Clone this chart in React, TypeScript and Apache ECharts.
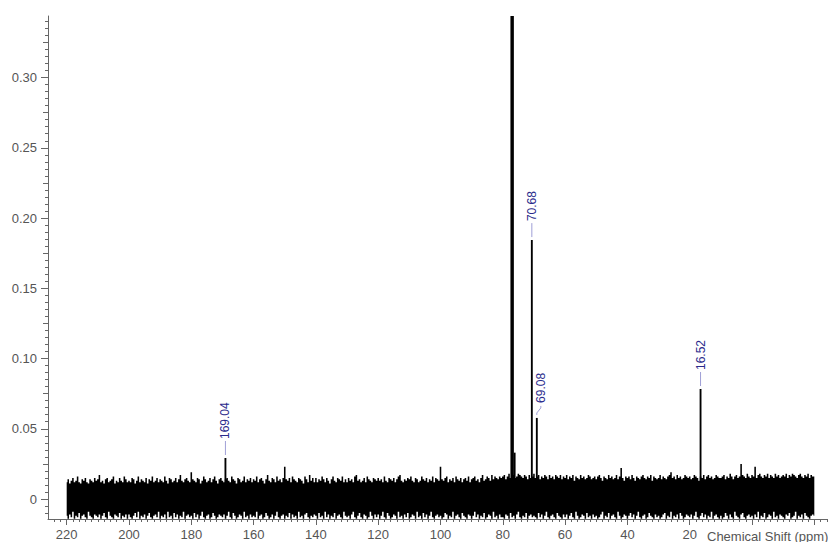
import React, { useEffect, useRef } from "react";
import * as echarts from "echarts";

// 13C NMR spectrum in CDCl3. Shift axis runs right-to-left.
const noiseStart = 220; // ppm, first baseline sample
const noiseEnd = -20; // ppm, last baseline sample
const noiseStep = 0.5; // ppm between baseline samples

// Upper edge of the baseline noise, 220 -> -20 ppm every 0.5 ppm (units of 0.001)
const noiseTop = [
  12, 14, 11, 13, 15, 12, 13, 16, 12, 11, 14, 13, 15, 12, 11, 14, 13, 12, 15, 13,
  14, 17, 12, 13, 11, 14, 15, 12, 13, 14, 16, 11, 13, 12, 15, 13, 12, 16, 14, 12,
  13, 12, 15, 14, 11, 13, 16, 12, 14, 13, 12, 15, 11, 14, 13, 16, 12, 13, 15, 12,
  14, 13, 12, 16, 13, 11, 15, 14, 12, 13, 15, 12, 14, 17, 13, 12, 14, 15, 13, 12,
  19, 14, 13, 12, 15, 14, 11, 13, 16, 14, 12, 13, 15, 12, 14, 16, 13, 11, 14, 15,
  13, 12, 14, 15, 13, 12, 16, 14, 13, 11, 15, 14, 12, 13, 16, 12, 14, 13, 15, 12,
  14, 13, 16, 12, 14, 15, 13, 11, 14, 17, 13, 12, 15, 14, 12, 16, 13, 14, 12, 15,
  23, 14, 13, 15, 12, 16, 14, 13, 12, 15, 14, 13, 11, 16, 14, 12, 17, 13, 15, 12,
  15, 12, 14, 13, 16, 14, 12, 15, 13, 11, 14, 16, 13, 12, 15, 14, 13, 16, 12, 14,
  12, 15, 13, 14, 12, 16, 17, 13, 14, 12, 13, 15, 12, 16, 14, 13, 12, 15, 14, 13,
  15, 13, 14, 12, 16, 13, 12, 15, 14, 13, 15, 12, 14, 16, 17, 13, 12, 14, 13, 15,
  14, 16, 13, 12, 15, 14, 12, 13, 16, 14, 13, 15, 12, 14, 13, 16, 12, 15, 14, 13,
  23, 14, 13, 15, 16, 12, 14, 13, 15, 12, 16, 14, 13, 15, 12, 14, 15, 13, 16, 12,
  14, 15, 16, 13, 14, 12, 15, 17, 13, 14, 16, 15, 13, 17, 14, 16, 15, 14, 16, 15,
  16, 17, 14, 16, 18, 15, 16, 17, 15, 16, 18, 17, 16, 15, 17, 16, 14, 17, 15, 16,
  18, 15, 16, 17, 14, 16, 15, 17, 16, 14, 17, 15, 16, 14, 17, 16, 15, 17, 14, 16,
  15, 17, 14, 16, 15, 17, 13, 16, 15, 14, 17, 15, 16, 14, 15, 17, 16, 14, 15, 16,
  14, 16, 17, 15, 13, 16, 15, 14, 17, 15, 16, 14, 15, 17, 14, 16, 22, 15, 13, 16,
  15, 16, 14, 17, 15, 13, 16, 15, 14, 16, 17, 15, 14, 16, 15, 17, 13, 16, 15, 14,
  15, 17, 14, 16, 15, 14, 16, 17, 19, 15, 16, 14, 17, 15, 16, 14, 15, 17, 16, 15,
  16, 14, 15, 17, 16, 15, 13, 16, 15, 17, 14, 16, 17, 15, 16, 14, 15, 17, 16, 15,
  15, 16, 17, 14, 16, 15, 18, 16, 14, 16, 17, 15, 16, 25, 17, 16, 15, 18, 16, 15,
  17, 16, 23, 15, 17, 18, 16, 15, 17, 16, 18, 15, 17, 16, 15, 18, 16, 17, 15, 16,
  17, 16, 18, 15, 17, 16, 18, 17, 16, 15, 17, 18, 16, 15, 17, 16, 18, 15, 17, 16,
  16,
];
// Lower edge of the baseline noise, same sampling (units of 0.001)
const noiseBottom = [
  -12, -14, -11, -13, -9, -14, -12, -13, -10, -14, -12, -11, -13, -14, -9, -12, -13, -14, -11, -12,
  -13, -11, -14, -12, -10, -13, -14, -9, -12, -13, -14, -11, -12, -13, -10, -14, -12, -13, -11, -14,
  -11, -13, -14, -12, -10, -13, -9, -14, -12, -13, -11, -14, -12, -10, -13, -14, -12, -11, -13, -9,
  -14, -12, -13, -11, -14, -9, -13, -12, -14, -10, -13, -11, -14, -12, -13, -9, -14, -12, -11, -13,
  -12, -14, -10, -13, -11, -14, -12, -9, -13, -14, -12, -11, -14, -13, -10, -12, -14, -13, -11, -12,
  -13, -11, -14, -12, -9, -13, -14, -10, -12, -14, -13, -11, -12, -14, -9, -13, -12, -14, -11, -13,
  -12, -13, -9, -14, -12, -11, -14, -13, -10, -12, -14, -13, -11, -14, -12, -9, -13, -14, -12, -11,
  -14, -12, -13, -10, -14, -11, -13, -12, -14, -9, -13, -12, -14, -11, -10, -13, -14, -12, -13, -11,
  -12, -14, -10, -13, -12, -14, -9, -13, -11, -14, -12, -13, -10, -14, -12, -11, -13, -14, -9, -12,
  -13, -12, -14, -11, -9, -13, -14, -12, -10, -13, -14, -11, -12, -14, -13, -9, -12, -14, -11, -13,
  -11, -14, -12, -9, -13, -14, -10, -12, -14, -13, -11, -12, -14, -9, -13, -12, -14, -11, -13, -10,
  -14, -13, -11, -12, -14, -9, -13, -12, -14, -10, -13, -11, -14, -12, -9, -13, -14, -12, -11, -13,
  -12, -14, -13, -10, -11, -14, -12, -13, -9, -14, -12, -11, -13, -14, -10, -12, -13, -14, -11, -12,
  -14, -12, -9, -13, -11, -14, -12, -13, -10, -14, -13, -11, -12, -14, -9, -13, -12, -14, -11, -13,
  -13, -14, -11, -12, -14, -10, -13, -12, -14, -11, -9, -13, -14, -12, -13, -10, -14, -12, -11, -13,
  -12, -13, -14, -10, -13, -11, -14, -12, -9, -13, -14, -12, -11, -13, -14, -10, -12, -13, -14, -11,
  -13, -11, -14, -12, -10, -13, -14, -9, -12, -14, -13, -11, -12, -14, -10, -13, -12, -14, -11, -13,
  -12, -14, -13, -11, -9, -14, -12, -13, -10, -14, -12, -11, -13, -14, -9, -12, -14, -13, -11, -12,
  -14, -12, -10, -13, -11, -14, -12, -9, -13, -14, -12, -11, -14, -13, -10, -12, -13, -14, -11, -13,
  -12, -14, -13, -11, -10, -14, -12, -13, -9, -14, -12, -13, -11, -14, -10, -12, -14, -13, -11, -12,
  -13, -11, -14, -12, -9, -13, -14, -12, -10, -13, -11, -14, -12, -13, -9, -14, -12, -11, -13, -14,
  -12, -14, -13, -10, -12, -14, -11, -13, -14, -9, -12, -13, -14, -11, -10, -13, -14, -12, -11, -13,
  -12, -14, -11, -13, -9, -14, -12, -13, -10, -14, -13, -11, -12, -14, -9, -13, -12, -14, -11, -12,
  -13, -14, -11, -12, -10, -14, -13, -12, -9, -14, -12, -13, -11, -14, -10, -12, -13, -14, -12, -11,
  -12,
];

// Resolved signals: shift (ppm) and intensity; the CDCl3 triplet runs off scale
const peakPpm = [169.04, 77.25, 77.0, 76.75, 76.2, 70.68, 69.08, 16.52];
const peakHeight = [0.0292, 0.9, 0.9, 0.9, 0.033, 0.1843, 0.0577, 0.0783];
const labelledPpm = [169.04, 70.68, 69.08, 16.52];

const xTicks = [220, 200, 180, 160, 140, 120, 100, 80, 60, 40, 20, 0, -20];
const xLabels = [220, 200, 180, 160, 140, 120, 100, 80, 60, 40, 20];
const yTicks = [0, 0.05, 0.1, 0.15, 0.2, 0.25, 0.3];
const yMidTicks = [0.025, 0.075, 0.125, 0.175, 0.225, 0.275, 0.325];

const FONT = '"Liberation Sans", Arial, Helvetica, sans-serif';
const AXIS = "#666";
const LABEL = "#555";

const X_MIN = -26;
const X_MAX = 226;
const Y_MIN = -0.01423;
const Y_MAX = 0.3438;

export default function App() {
  const ref = useRef<HTMLDivElement>(null);

  useEffect(() => {
    if (!ref.current) return;
    const chart = echarts.init(ref.current, undefined, { renderer: "svg" });

    const peakData = peakPpm.map((p, i) => [p, peakHeight[i]]);
    const labelData = peakData.filter((d) => labelledPpm.includes(d[0]));

    const option: any = {
      animation: false,
      grid: {
        left: 48,
        top: 16,
        right: 17,
        bottom: 23,
        containLabel: false,
        outerBoundsMode: "none",
      },
      xAxis: {
        type: "value",
        inverse: true,
        min: X_MIN,
        max: X_MAX,
        splitNumber: 12,
        axisLine: { show: true, onZero: false, lineStyle: { color: AXIS, width: 1 } },
        axisTick: { show: true, customValues: xTicks, length: 6, lineStyle: { color: AXIS } },
        minorTick: { show: true, splitNumber: 10, length: 3, lineStyle: { color: AXIS } },
        axisLabel: {
          customValues: xLabels,
          margin: 9,
          color: LABEL,
          fontSize: 13,
          fontFamily: FONT,
        },
        splitLine: { show: false },
        minorSplitLine: { show: false },
      },
      yAxis: [
        {
          type: "value",
          position: "left",
          min: Y_MIN,
          max: Y_MAX,
          splitNumber: 7,
          axisLine: { show: true, onZero: false, lineStyle: { color: AXIS, width: 1 } },
          axisTick: { show: true, customValues: yTicks, length: 7, lineStyle: { color: AXIS } },
          minorTick: { show: true, splitNumber: 10, length: 3, lineStyle: { color: AXIS } },
          axisLabel: {
            customValues: yTicks,
            margin: 11,
            color: LABEL,
            fontSize: 13,
            fontFamily: FONT,
            formatter: (v: number) => (v === 0 ? "0" : v.toFixed(2)),
          },
          splitLine: { show: false },
        },
        {
          // half-step ticks between the labelled ones
          type: "value",
          position: "left",
          min: Y_MIN,
          max: Y_MAX,
          splitNumber: 7,
          axisLine: { show: false, onZero: false },
          axisTick: { show: true, customValues: yMidTicks, length: 5, lineStyle: { color: AXIS } },
          axisLabel: { show: false },
          splitLine: { show: false },
        },
      ],
      graphic: [
        {
          type: "text",
          x: 707,
          y: 536,
          style: {
            text: "Chemical Shift (ppm)",
            fill: LABEL,
            font: `13px ${FONT}`,
            align: "left",
            verticalAlign: "middle",
          },
        },
      ],
      series: [
        {
          // baseline noise band: one stepped outline through the sampled edges
          type: "custom",
          silent: true,
          clip: true,
          xAxisIndex: 0,
          yAxisIndex: 0,
          data: [[noiseStart, 0]],
          renderItem: (params: any, api: any) => {
            const pts: number[][] = [];
            const span = (i: number) => {
              const p = noiseStart - i * noiseStep;
              return [Math.min(p + noiseStep / 2, noiseStart), Math.max(p - noiseStep / 2, noiseEnd)];
            };
            noiseTop.forEach((t, i) => {
              const [hi, lo] = span(i);
              pts.push(api.coord([hi, t / 1000]), api.coord([lo, t / 1000]));
            });
            for (let i = noiseBottom.length - 1; i >= 0; i--) {
              const [hi, lo] = span(i);
              pts.push(api.coord([lo, noiseBottom[i] / 1000]), api.coord([hi, noiseBottom[i] / 1000]));
            }
            return { type: "polygon", shape: { points: pts }, style: { fill: "#000" } };
          },
          z: 2,
        },
        {
          // signal lines
          type: "custom",
          silent: true,
          clip: true,
          xAxisIndex: 0,
          yAxisIndex: 0,
          encode: { x: 0, y: 1 },
          data: peakData,
          renderItem: (params: any, api: any) => {
            const p = api.value(0);
            const h = api.value(1);
            const a = api.coord([p + 0.3, h]);
            const b = api.coord([p - 0.3, 0]);
            const top = Math.max(a[1], params.coordSys.y);
            const x = Math.min(a[0], b[0]);
            return {
              type: "rect",
              shape: { x, y: top, width: Math.abs(b[0] - a[0]), height: b[1] - top },
              style: { fill: "#000" },
            };
          },
          z: 3,
        },
        {
          // shift annotations with leader lines
          type: "custom",
          silent: true,
          xAxisIndex: 0,
          yAxisIndex: 0,
          encode: { x: 0, y: 1 },
          data: labelData,
          renderItem: (params: any, api: any) => {
            const p = api.value(0);
            const h = api.value(1);
            const [x, y] = api.coord([p, h]);
            // step aside when a taller labelled line stands just to the left
            const crowded = labelledPpm.some((q) => {
              const i = peakPpm.indexOf(q);
              if (q === p || peakHeight[i] <= h) return false;
              const qx = api.coord([q, 0])[0];
              return qx < x && x - qx < 8;
            });
            const dx = crowded ? 4 : 0;
            const leader = crowded
              ? [[x, y - 3], [x, y - 5], [x + dx, y - 10], [x + dx, y - 12]]
              : [[x, y - 3], [x, y - 17]];
            const textY = crowded ? y - 15 : y - 19;
            return {
              type: "group",
              children: [
                {
                  type: "polyline",
                  shape: { points: leader },
                  style: { stroke: "#9f9fd6", lineWidth: 1, fill: "none" },
                },
                {
                  type: "text",
                  x: x + dx,
                  y: textY,
                  rotation: Math.PI / 2,
                  style: {
                    text: p.toFixed(2),
                    fill: "#2b2b8c",
                    font: `12px ${FONT}`,
                    align: "left",
                    verticalAlign: "middle",
                  },
                },
              ],
            };
          },
          z: 4,
        },
      ],
    };

    chart.setOption(option);
    return () => chart.dispose();
  }, []);

  // the plot runs a little past the right edge of the window, like the source plot
  return (
    <div
      ref={ref}
      style={{ position: "fixed", left: 0, top: 0, width: 850, height: 542, background: "#fff" }}
    />
  );
}
